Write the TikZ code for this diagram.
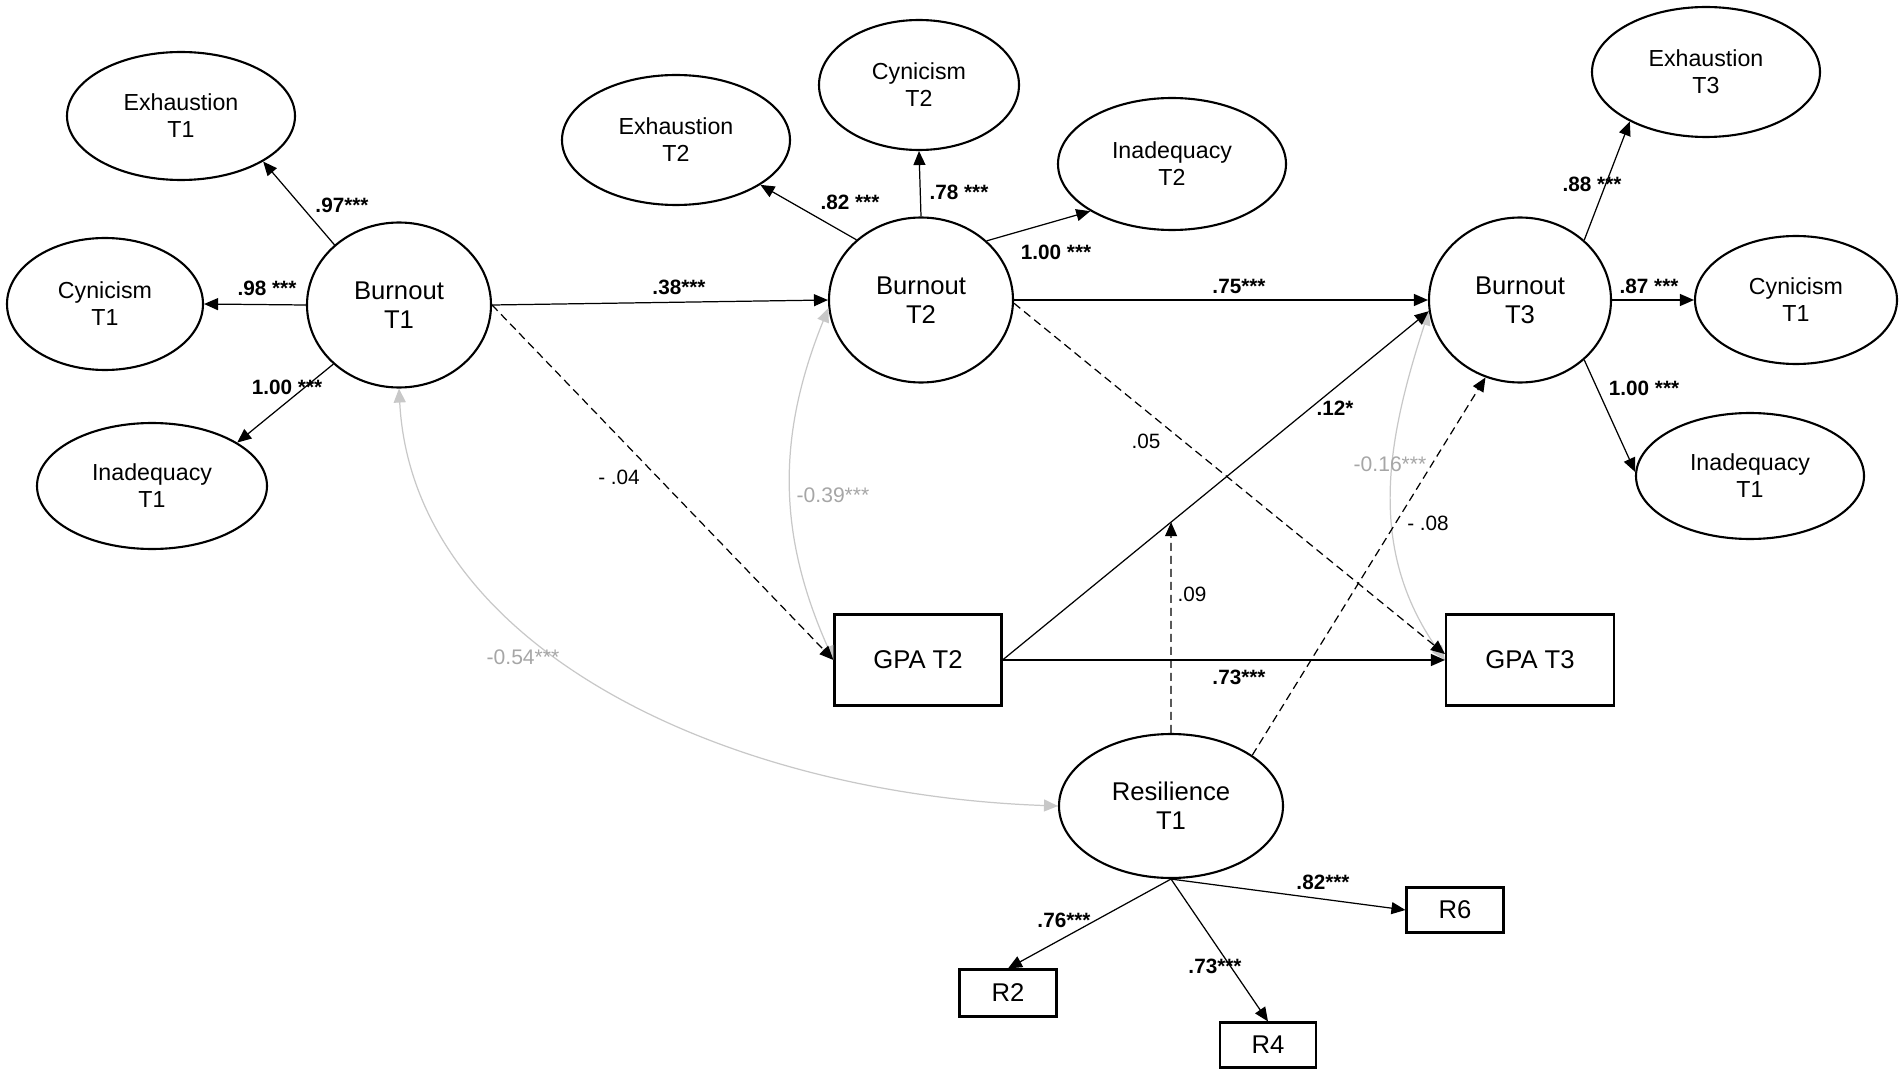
\documentclass[tikz,border=0pt]{standalone}
\usepackage{fontspec}
\setmainfont{Liberation Sans}
\usetikzlibrary{arrows.meta, positioning, shapes.geometric}

\definecolor{covgrey}{HTML}{C8C8C8}
\definecolor{txtgrey}{HTML}{A6A6A6}

\begin{document}
\begin{tikzpicture}[
    ind/.style={draw, ellipse, line width=0.6pt, inner sep=0pt, align=center,
        minimum width=2.28cm, minimum height=1.28cm, font=\fontsize{6.6}{7.7}\selectfont},
    lat/.style={draw, ellipse, line width=0.6pt, inner sep=0pt, align=center,
        minimum width=1.84cm, minimum height=1.65cm, font=\fontsize{7.3}{8.3}\selectfont},
    obs/.style={draw, rectangle, line width=0.6pt, inner sep=0pt, align=center,
        font=\fontsize{7.3}{8.3}\selectfont},
    arr/.style={-{Triangle[length=1.4mm, width=1.2mm]}, line width=0.35pt},
    dsh/.style={arr, dash pattern=on 2.3pt off 1.4pt},
    cov/.style={{Triangle[length=1.4mm, width=1.2mm]}-{Triangle[length=1.4mm, width=1.2mm]},
        draw=covgrey, line width=0.35pt},
    coef/.style={inner sep=0pt, font=\fontsize{5.9}{6.5}\selectfont\bfseries},
    coefn/.style={inner sep=0pt, font=\fontsize{5.9}{6.5}\selectfont},
    coefg/.style={inner sep=0pt, text=txtgrey, font=\fontsize{6}{6.5}\selectfont}
]
    \useasboundingbox (0,0) rectangle (19.02,-10.74);

    % burnout T1 and its indicators
    \node[lat] (bo1) at (3.99,-3.05) {Burnout\\T1};
    \node[ind] (exh1) at (1.81,-1.16) {Exhaustion\\T1};
    \node[ind, minimum width=1.96cm, minimum height=1.32cm] (cyn1) at (1.05,-3.04) {Cynicism\\T1};
    \node[ind, minimum width=2.30cm, minimum height=1.26cm] (inad1) at (1.52,-4.86) {Inadequacy\\T1};

    % burnout T2 and its indicators
    \node[lat] (bo2) at (9.21,-3.00) {Burnout\\T2};
    \node[ind, minimum height=1.30cm] (exh2) at (6.76,-1.40) {Exhaustion\\T2};
    \node[ind, minimum width=2.00cm, minimum height=1.30cm] (cyn2) at (9.19,-0.85) {Cynicism\\T2};
    \node[ind, minimum height=1.32cm] (inad2) at (11.72,-1.64) {Inadequacy\\T2};

    % burnout T3 and its indicators
    \node[lat, minimum width=1.82cm] (bo3) at (15.20,-3.00) {Burnout\\T3};
    \node[ind, minimum height=1.30cm] (exh3) at (17.06,-0.72) {Exhaustion\\T3};
    \node[ind, minimum width=2.02cm] (cyn3) at (17.96,-3.00) {Cynicism\\T1};
    \node[ind, minimum height=1.26cm] (inad3) at (17.50,-4.76) {Inadequacy\\T1};

    % GPA
    \node[obs, minimum width=1.67cm, minimum height=0.91cm] (gpa2) at (9.18,-6.60) {GPA T2};
    \node[obs, minimum width=1.68cm, minimum height=0.91cm] (gpa3) at (15.30,-6.60) {GPA T3};

    % resilience
    \node[lat, minimum width=2.24cm, minimum height=1.44cm] (res) at (11.71,-8.06) {Resilience\\T1};
    \node[obs, minimum width=0.97cm, minimum height=0.47cm] (r2) at (10.08,-9.93) {R2};
    \node[obs, minimum width=0.96cm, minimum height=0.45cm] (r4) at (12.68,-10.45) {R4};
    \node[obs, minimum width=0.97cm, minimum height=0.45cm] (r6) at (14.55,-9.10) {R6};

    % covariances
    \draw[cov] (bo1.south) to[out=-87, in=178, out looseness=0.85, in looseness=1.1] (res.west);
    \draw[cov] (bo2.185) to[out=-112, in=114] (gpa2.west);
    \draw[cov] (bo3.187) to[out=-108, in=125] (gpa3.west);

    % loadings
    \draw[arr] (bo1.137) -- (exh1.-29);
    \draw[arr] (bo1.west) -- (cyn1.east);
    \draw[arr] (bo1.222) -- (inad1.27);
    \draw[arr] (bo2.137) -- (exh2.-28);
    \draw[arr] (bo2.north) -- (cyn2.south);
    \draw[arr] (bo2.42) -- (inad2.210);
    \draw[arr] (bo3.43) -- (exh3.213);
    \draw[arr] (bo3.east) -- (cyn3.west);
    \draw[arr] (bo3.-43) -- (inad3.178);
    \draw[arr] (res.south) -- (r2.north);
    \draw[arr] (res.south) -- (r4.north);
    \draw[arr] (res.south) -- (r6.west);

    % structural paths
    \draw[arr] (bo1.east) -- (bo2.west);
    \draw[arr] (bo2.east) -- (bo3.west);
    \draw[dsh] (bo1.east) -- (gpa2.west);
    \draw[dsh] (bo2.-2) -- (gpa3.176);
    \draw[arr] (gpa2.east) -- (bo3.187);
    \draw[arr] (gpa2.east) -- (gpa3.west);
    \draw[dsh] (res.32) -- (bo3.246);

    % moderation
    \coordinate (mod) at (intersection cs: first line={(gpa2.east)--(bo3.187)},
        second line={(res.north)--(res.south)});
    \draw[dsh] (res.north) -- (mod);

    % coefficients
    \node[coef] (l97) at (3.42,-2.05) {.97***};
    \node[coef] (l98) at (2.67,-2.88) {.98 ***};
    \node[coef] (l100a) at (2.87,-3.87) {1.00 ***};
    \node[coef] (l82a) at (8.50,-2.02) {.82 ***};
    \node[coef] (l78) at (9.59,-1.92) {.78 ***};
    \node[coef] (l100b) at (10.56,-2.52) {1.00 ***};
    \node[coef] (l88) at (15.92,-1.84) {.88 ***};
    \node[coef] (l87) at (16.49,-2.86) {.87 ***};
    \node[coef] (l100c) at (16.44,-3.88) {1.00 ***};
    \node[coef] (l38) at (6.79,-2.87) {.38***};
    \node[coef] (l75) at (12.39,-2.86) {.75***};
    \node[coef] (l12) at (13.35,-4.08) {.12*};
    \node[coef] (l73a) at (12.39,-6.77) {.73***};
    \node[coef] (l76) at (10.64,-9.20) {.76***};
    \node[coef] (l73b) at (12.15,-9.66) {.73***};
    \node[coef] (l82b) at (13.23,-8.82) {.82***};
    \node[coefn] (l04) at (6.19,-4.77) {- .04};
    \node[coefn] (l05) at (11.46,-4.41) {.05};
    \node[coefn] (l09) at (11.92,-5.94) {.09};
    \node[coefn] (l08) at (14.28,-5.23) {- .08};
    \node[coefg] (l54) at (5.23,-6.57) {-0.54***};
    \node[coefg] (l39) at (8.33,-4.95) {-0.39***};
    \node[coefg] (l16) at (13.90,-4.64) {-0.16***};
\end{tikzpicture}
\end{document}
